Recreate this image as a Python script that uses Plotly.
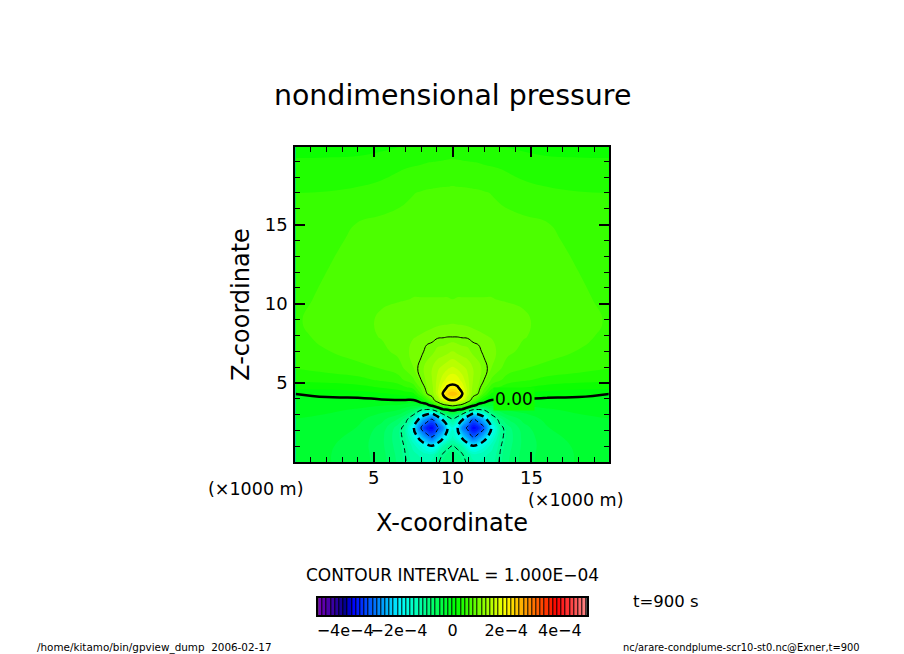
# coding: utf-8
import plotly.graph_objects as go

# nondimensional pressure in units of 1e-4, left half of the domain
x_half = [0.05, 2, 4, 5.5, 6.5, 7, 7.5, 8, 8.35, 8.7, 9.05, 9.4, 9.7, 10]
z_levels = [0, 0.5, 1, 1.5, 2.15, 2.7, 3, 3.3, 3.6, 3.9, 4.3, 4.7, 5.2, 5.9, 7, 7.9, 8.9, 10.3, 12, 14, 15, 17, 19.2, 19.9]
pressure_half = [
    [-.25, -.30, -.38, -.55, -.80, -.98, -1.15, -1.20, -1.25, -1.20, -1.04, -.92, -.82, -.80],
    [-.25, -.30, -.38, -.56, -.82, -1.00, -1.20, -1.30, -1.38, -1.40, -1.15, -.98, -.92, -.88],
    [-.24, -.29, -.38, -.58, -.85, -1.03, -1.30, -1.60, -1.80, -1.95, -1.70, -1.25, -1.05, -.98],
    [-.22, -.27, -.36, -.58, -.88, -1.08, -1.55, -2.20, -2.60, -2.90, -2.45, -2.00, -1.60, -1.35],
    [-.20, -.24, -.32, -.53, -.85, -1.12, -1.90, -3.00, -3.50, -3.70, -3.10, -2.70, -1.95, -1.60],
    [-.16, -.20, -.27, -.42, -.62, -.85, -1.35, -2.30, -2.70, -3.00, -2.45, -1.90, -1.35, -1.05],
    [-.13, -.16, -.22, -.34, -.45, -.60, -.95, -1.70, -2.00, -2.20, -1.70, -1.05, -.70, -.50],
    [-.10, -.13, -.17, -.25, -.30, -.40, -.55, -.95, -1.05, -1.00, -.55, -.10, .00, .10],
    [-.07, -.10, -.12, -.14, -.15, -.20, -.25, -.20, -.15, .20, .60, .90, 1.05, 1.20],
    [-.04, -.05, -.05, -.02, -.01, -.01, -.02, .20, .45, .80, 1.25, 1.70, 1.95, 2.00],
    [.00, .05, .07, .13, .18, .22, .26, .60, .98, 1.15, 1.50, 2.05, 2.35, 2.50],
    [.20, .20, .25, .32, .38, .45, .52, .82, 1.08, 1.20, 1.50, 1.85, 2.05, 2.10],
    [.35, .38, .42, .50, .55, .65, .75, 1.00, 1.12, 1.25, 1.45, 1.65, 1.80, 1.85],
    [.47, .52, .58, .63, .70, .80, .93, 1.05, 1.14, 1.25, 1.38, 1.47, 1.55, 1.60],
    [.58, .62, .69, .74, .82, .90, .98, .97, 1.03, 1.05, 1.14, 1.16, 1.20, 1.25],
    [.60, .65, .73, .79, .85, .92, .93, .95, .96, .97, .985, .99, 1.00, 1.00],
    [.615, .66, .74, .80, .84, .87, .89, .88, .90, .91, .915, .92, .92, .925],
    [.60, .645, .72, .765, .77, .775, .785, .785, .785, .785, .785, .785, .785, .78],
    [.57, .625, .69, .72, .72, .72, .73, .73, .73, .73, .73, .73, .73, .73],
    [.52, .58, .66, .68, .69, .69, .69, .695, .695, .70, .70, .70, .70, .70],
    [.50, .55, .635, .66, .67, .675, .68, .68, .685, .685, .685, .69, .69, .69],
    [.469, .475, .50, .54, .58, .60, .62, .635, .645, .65, .655, .66, .66, .665],
    [.3125, .315, .32, .345, .39, .41, .42, .43, .44, .445, .45, .455, .46, .465],
    [.26, .27, .28, .29, .31, .325, .335, .345, .35, .36, .37, .38, .39, .40],
]

# colour bar
bar_ticks = [-4, -2, 0, 2, 4]
bar_labels = ["−4e−4", "−2e−4", "0", "2e−4", "4e−4"]
n_colors = 64
band = 10 / n_colors
bar_values = [-5 + band * (i + 0.5) for i in range(n_colors)]
rainbow = [
    [0.0, "#7a00b8"], [0.104, "#000090"], [0.13, "#0000ff"], [0.31, "#00ffff"],
    [0.515, "#00ff00"], [0.70, "#ffff00"], [0.89, "#ff0000"], [1.0, "#ff8888"],
]

# the field is symmetric around x=10
x = x_half + [20 - v for v in x_half[-2::-1]]
pressure = [row + row[-2::-1] for row in pressure_half]

TEXT = "DejaVu Sans"
W, H = 904, 654


def px(v):
    return v / W


def py(v):
    return 1 - v / H


fig = go.Figure()
fig.add_trace(go.Contour(
    x=x, y=z_levels, z=pressure, colorscale=rainbow, zmin=-5, zmax=5, showscale=False,
    contours={"start": -5, "end": 5, "size": band, "coloring": "fill", "showlines": False},
    line={"width": 0, "smoothing": 1.3}, hoverinfo="skip",
))

# contour lines: every second one is thick, negative ones are dashed
for level, width, dash in [(-3, 1, "4px,3px"), (-2, 2.5, "7px,4px"), (-1, 1, "5px,3px"), (0, 2.5, "solid"), (1, 1, "solid"), (2, 2.5, "solid")]:
    fig.add_trace(go.Contour(
        x=x, y=z_levels, z=pressure, showscale=False, autocontour=False,
        colorscale=[[0, "black"], [1, "black"]],
        contours={"start": level, "end": level, "size": 1, "coloring": "lines"},
        line={"width": width, "dash": dash, "color": "black", "smoothing": 1.3}, hoverinfo="skip",
    ))

fig.add_trace(go.Heatmap(
    x=bar_values, y=[0], z=[bar_values], xaxis="x2", yaxis="y2", colorscale=rainbow,
    zmin=-5, zmax=5, showscale=False, xgap=1, hoverinfo="skip",
))

axis_common = dict(
    showgrid=False, zeroline=False, showline=True, linecolor="black", linewidth=2, mirror="ticks",
    ticks="inside", ticklen=10, tickwidth=2, tickcolor="black", tick0=0, dtick=5,
    minor={"ticks": "inside", "ticklen": 5, "tickwidth": 1, "tickcolor": "black", "dtick": 1, "showgrid": False},
    tickfont={"family": TEXT, "size": 18, "color": "black"},
)

fig.update_layout(
    width=W, height=H, margin={"l": 0, "r": 0, "t": 0, "b": 0},
    paper_bgcolor="white", plot_bgcolor="black", showlegend=False,
    xaxis=dict(
        axis_common, domain=[px(294), px(608)], range=[0.03, 19.9], anchor="y",
        tickvals=[5, 10, 15], ticklabelstandoff=-2,
        title={"text": "X-coordinate", "font": {"family": TEXT, "size": 24, "color": "black"}, "standoff": 28},
    ),
    yaxis=dict(
        axis_common, domain=[py(462), py(147)], range=[0, 19.9], anchor="x",
        tickvals=[5, 10, 15], ticklabelstandoff=2,
        title={"text": "Z-coordinate", "font": {"family": TEXT, "size": 24, "color": "black"}, "standoff": 8},
    ),
    xaxis2=dict(
        domain=[px(317), px(586)], range=[-5, 5], anchor="y2", showgrid=False, zeroline=False,
        showline=True, linecolor="black", linewidth=2, mirror=True, ticks="", tickangle=0,
        tickvals=bar_ticks, ticktext=bar_labels, tickfont={"family": TEXT, "size": 16, "color": "black"},
    ),
    yaxis2=dict(
        domain=[py(615), py(598)], range=[-0.5, 0.5], anchor="x2", showgrid=False, zeroline=False,
        showline=True, linecolor="black", linewidth=2, mirror=True, showticklabels=False, ticks="",
    ),
)


def text_at(x_px, y_px, text, size, anchor="center", **extra):
    fig.add_annotation(
        x=px(x_px), y=py(y_px), xref="paper", yref="paper", text=text, showarrow=False,
        xanchor=anchor, yanchor="middle", font={"family": TEXT, "size": size, "color": "black"}, **extra,
    )


text_at(451, 95, "nondimensional pressure", 28.4)
text_at(254, 489, "(×1000 m)", 17.5)
text_at(575, 500, "(×1000 m)", 17.5)
text_at(451, 575, "CONTOUR INTERVAL = 1.000E−04", 17)
text_at(665, 601, "t=900 s", 16.5)
text_at(33, 647, "/home/kitamo/bin/gpview_dump  2006-02-17", 10.4, anchor="left")
text_at(862, 647, "nc/arare-condplume-scr10-st0.nc@Exner,t=900", 9.9, anchor="right")
text_at(513, 399, "0.00", 17, bgcolor="#12ff00")

fig.write_html(
    "out.html",
    config={"displayModeBar": False},
    post_script="document.body.style.margin='0';document.documentElement.style.overflow='hidden';",
)
